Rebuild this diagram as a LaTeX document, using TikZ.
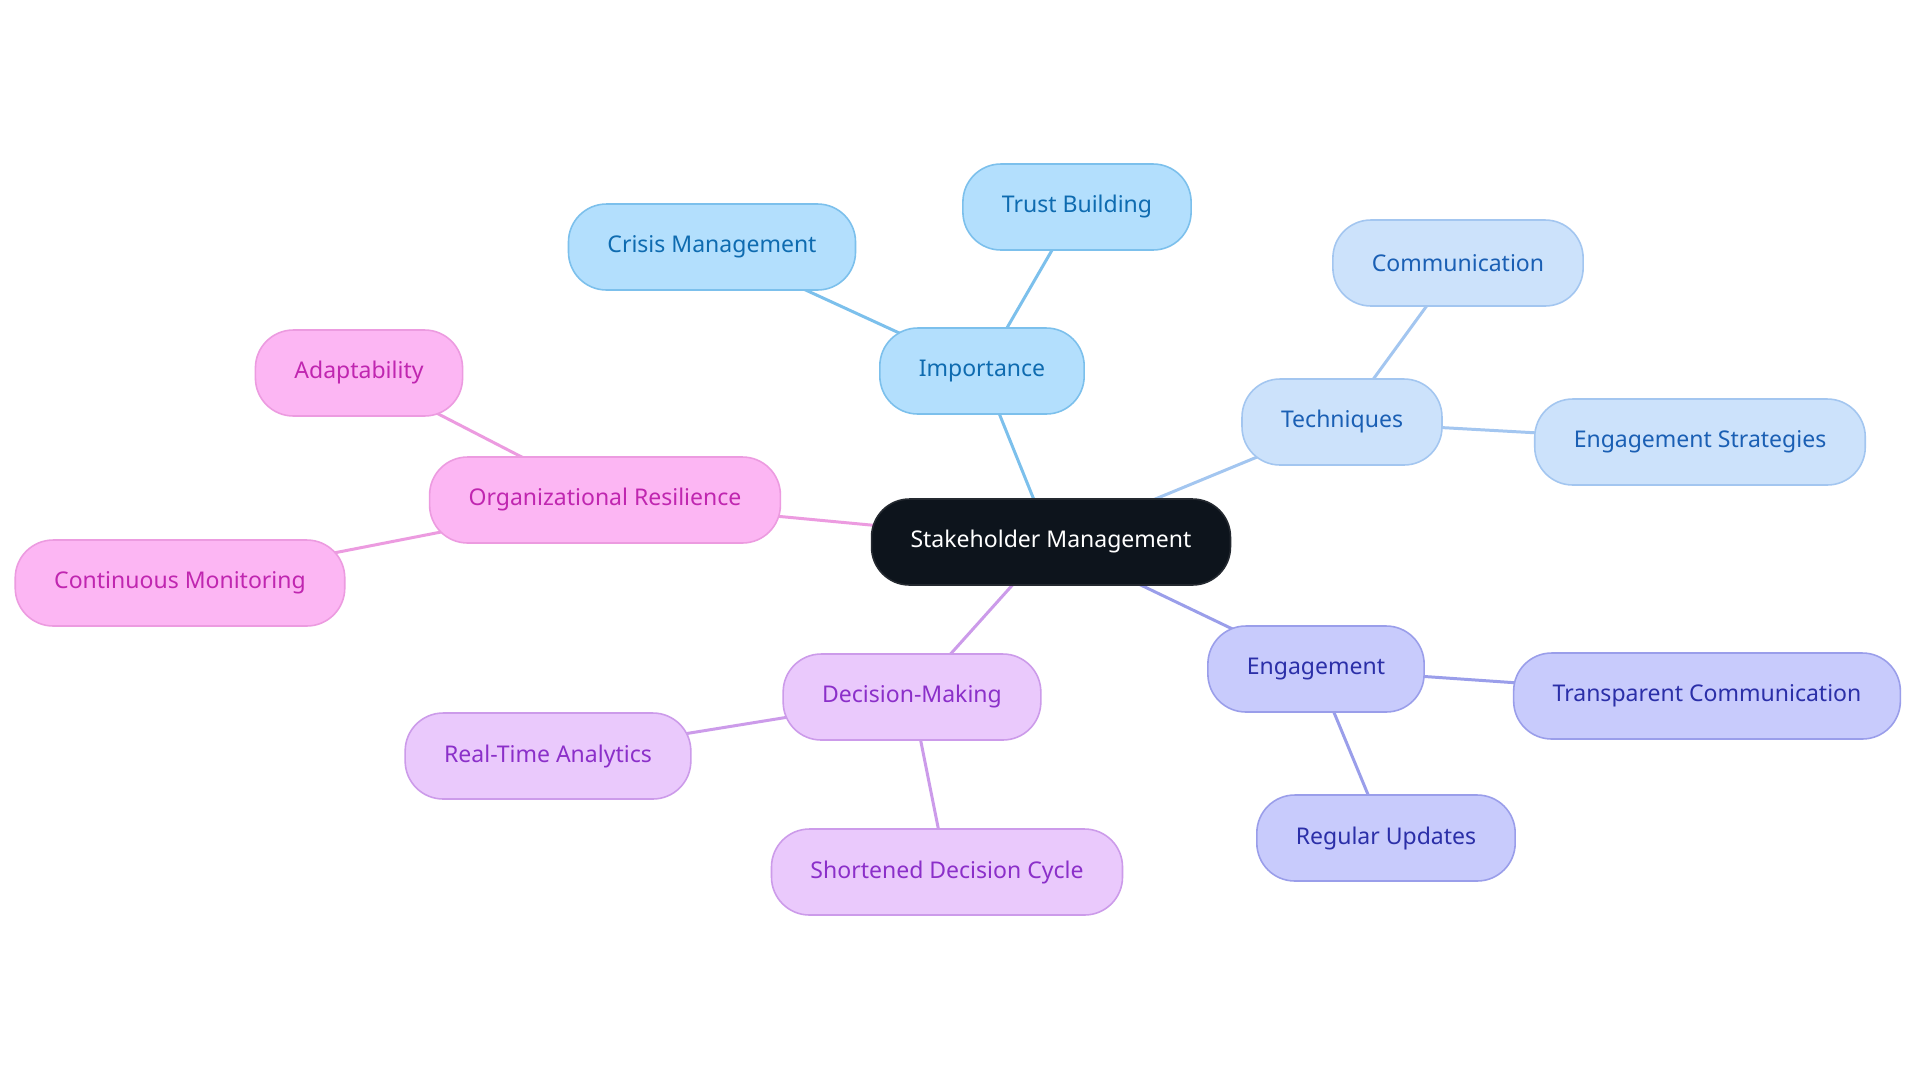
\documentclass[tikz,border=0pt]{standalone}
\usepackage{fontspec}
\setmainfont{Noto Sans}
\usetikzlibrary{backgrounds}
\definecolor{rootfill}{HTML}{0D141C}
\definecolor{aFill}{HTML}{B3DFFD}\definecolor{aDraw}{HTML}{7CC0EC}\definecolor{aText}{HTML}{0E6BB0}
\definecolor{bFill}{HTML}{CCE2FB}\definecolor{bDraw}{HTML}{A3C6F0}\definecolor{bText}{HTML}{1A5FB4}
\definecolor{cFill}{HTML}{C8CBFC}\definecolor{cDraw}{HTML}{9A9EEA}\definecolor{cText}{HTML}{2B2FA8}
\definecolor{dFill}{HTML}{EAC9FC}\definecolor{dDraw}{HTML}{CC9BEA}\definecolor{dText}{HTML}{8B2FC9}
\definecolor{eFill}{HTML}{FCB6F3}\definecolor{eDraw}{HTML}{EC9BE0}\definecolor{eText}{HTML}{C026B0}
\tikzset{
  box/.style={rounded corners=0.76cm, minimum height=1.72cm, inner xsep=0.78cm, line width=0.9pt, font=\fontsize{13.1}{15}\selectfont},
  rootbox/.style={box, fill=rootfill, draw=rootfill!80!gray, text=white},
  abox/.style={box, fill=aFill, draw=aDraw, text=aText},
  bbox/.style={box, fill=bFill, draw=bDraw, text=bText},
  cbox/.style={box, fill=cFill, draw=cDraw, text=cText},
  dbox/.style={box, fill=dFill, draw=dDraw, text=dText},
  ebox/.style={box, fill=eFill, draw=eDraw, text=eText},
  link/.style={line width=1.7pt},
}
\begin{document}
\begin{tikzpicture}[x=0.02cm,y=-0.02cm]
\useasboundingbox (0,0) rectangle (1920,1083);
\node[rootbox] (root) at (1051,542) {Stakeholder Management};
\node[abox] (imp) at (982,371) {Importance};
\node[abox] (crisis) at (712,247) {Crisis Management};
\node[abox] (trust) at (1077,207) {Trust Building};
\node[bbox] (tech) at (1342,422) {Techniques};
\node[bbox] (comm) at (1458,263) {Communication};
\node[bbox] (estrat) at (1700,442) {Engagement Strategies};
\node[cbox] (eng) at (1316,669) {Engagement};
\node[cbox] (transp) at (1707,696) {Transparent Communication};
\node[cbox] (regular) at (1386,838) {Regular Updates};
\node[dbox] (dec) at (912,697) {Decision-Making};
\node[dbox] (rta) at (548,756) {Real-Time Analytics};
\node[dbox] (short) at (947,872) {Shortened Decision Cycle};
\node[ebox] (org) at (605,500) {Organizational Resilience};
\node[ebox] (adapt) at (359,373) {Adaptability};
\node[ebox] (cont) at (180,583) {Continuous Monitoring};
\begin{scope}[on background layer]
\fill[white] (0,0) rectangle (1920,1083);
\draw[link, aDraw] (root.center) -- (imp.center);
\draw[link, aDraw] (imp.center) -- (crisis.center);
\draw[link, aDraw] (imp.center) -- (trust.center);
\draw[link, bDraw] (root.center) -- (tech.center);
\draw[link, bDraw] (tech.center) -- (comm.center);
\draw[link, bDraw] (tech.center) -- (estrat.center);
\draw[link, cDraw] (root.center) -- (eng.center);
\draw[link, cDraw] (eng.center) -- (transp.center);
\draw[link, cDraw] (eng.center) -- (regular.center);
\draw[link, dDraw] (root.center) -- (dec.center);
\draw[link, dDraw] (dec.center) -- (rta.center);
\draw[link, dDraw] (dec.center) -- (short.center);
\draw[link, eDraw] (root.center) -- (org.center);
\draw[link, eDraw] (org.center) -- (adapt.center);
\draw[link, eDraw] (org.center) -- (cont.center);
\end{scope}
\end{tikzpicture}
\end{document}
